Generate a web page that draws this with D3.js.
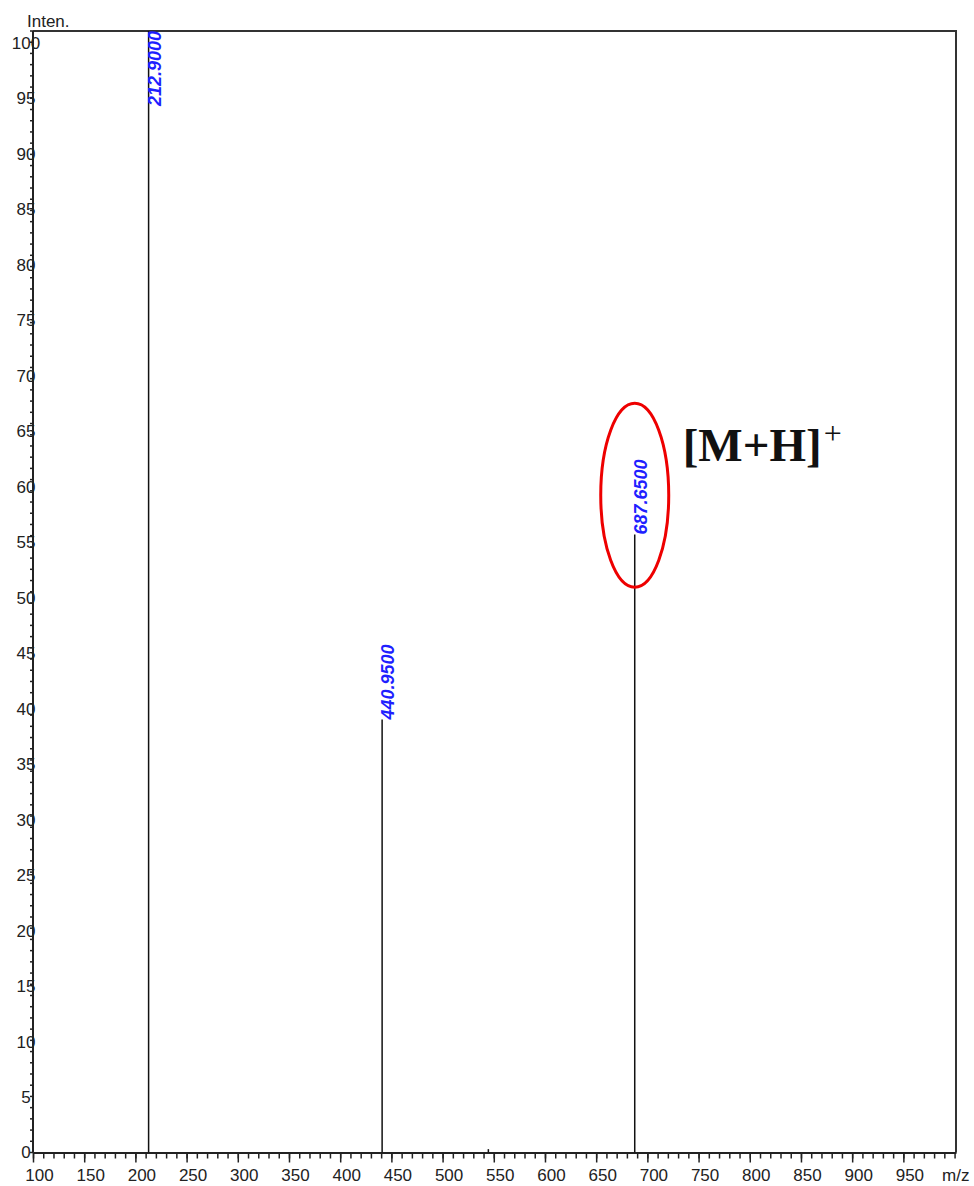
<!DOCTYPE html>
<html>
<head>
<meta charset="utf-8">
<script src="https://cdn.jsdelivr.net/npm/d3@7"></script>
<style>
  body { margin: 0; background: #fff; }
  svg text { font-family: "Liberation Sans", Arial, sans-serif; }
</style>
</head>
<body>
<div id="chart"></div>
<script>
// peak data
const peakMz = [212.9, 440.95, 687.65, 544.7];
const peakInten = [100, 38.6, 55.1, 0.3];
const peakLabels = ['212.9000', '440.9500', '687.6500', ''];

// tick values
const xMajorTicks = d3.range(100, 951, 50);
const xMinorTicks = d3.range(100, 1001, 10);
const yMajorTicks = d3.range(0, 101, 5);
const yMinorTicks = d3.range(0, 101, 1);

// annotation
const ionMz = 687.65;
const ionCenterInten = 58.6;
const ionText = '[M+H]';

const W = 974, H = 1186;
const plotLeft = 33, plotRight = 956, plotTop = 31, plotBottom = 1152.5;

const svg = d3.select('#chart').append('svg')
  .attr('width', W)
  .attr('height', H);

const x = d3.scaleLinear().domain([100, 1001.4]).range([plotLeft, plotRight]);
const y = d3.scaleLinear().domain([0, 100]).range([plotBottom, plotTop]);
// the printed y labels drift a little from the tick marks
const yLab = d3.scaleLinear().domain([0, 100]).range([plotBottom, 43]);

// frame (top + right)
svg.append('path')
  .attr('d', `M${plotLeft},${plotTop}H${plotRight}V${plotBottom}`)
  .attr('fill', 'none')
  .attr('stroke', '#333')
  .attr('stroke-width', 2);

// x axis - minor ticks
svg.append('g')
  .attr('transform', `translate(0,${plotBottom})`)
  .call(d3.axisBottom(x).tickValues(xMinorTicks).tickSize(6).tickFormat(''))
  .call(g => g.select('.domain').remove())
  .selectAll('line').attr('stroke', '#222').attr('stroke-width', 1.5);

// x axis - major ticks + labels
const xAxis = svg.append('g')
  .attr('transform', `translate(0,${plotBottom})`)
  .call(d3.axisBottom(x).tickValues(xMajorTicks).tickSize(10).tickPadding(6).tickSizeOuter(0));
xAxis.select('.domain').attr('stroke', '#222').attr('stroke-width', 2);
xAxis.selectAll('line').attr('stroke', '#222').attr('stroke-width', 1.5);
xAxis.selectAll('text')
  .attr('dx', 6)
  .style('font-size', '17px')
  .style('font-family', '"Liberation Sans", Arial, sans-serif')
  .style('fill', '#222');

// y axis line
svg.append('line')
  .attr('x1', plotLeft).attr('x2', plotLeft)
  .attr('y1', plotTop).attr('y2', plotBottom)
  .attr('stroke', '#222').attr('stroke-width', 2);

// y minor ticks
svg.append('g').selectAll('line')
  .data(yMinorTicks)
  .join('line')
  .attr('x1', plotLeft - 3).attr('x2', plotLeft)
  .attr('y1', d => y(d)).attr('y2', d => y(d))
  .attr('stroke', '#222').attr('stroke-width', 1.5);

// y labels
svg.append('g').selectAll('text')
  .data(yMajorTicks)
  .join('text')
  .attr('x', 26)
  .attr('y', d => yLab(d))
  .attr('dy', '0.35em')
  .attr('text-anchor', 'middle')
  .style('font-size', '17px')
  .style('fill', '#222')
  .text(d => d);

// axis titles
svg.append('text')
  .attr('x', 27).attr('y', 27)
  .style('font-size', '17px').style('fill', '#222')
  .text('Inten.');

svg.append('text')
  .attr('x', 942).attr('y', 1181)
  .style('font-size', '17px').style('fill', '#222')
  .text('m/z');

// peaks
const peaks = peakMz.map((m, i) => ({mz: m, inten: peakInten[i], label: peakLabels[i]}));

svg.append('g').selectAll('line')
  .data(peaks)
  .join('line')
  .attr('x1', d => x(d.mz)).attr('x2', d => x(d.mz))
  .attr('y1', y(0)).attr('y2', d => y(d.inten))
  .attr('stroke', '#111')
  .attr('stroke-width', 1.5);

// peak labels (rotated, clamped so they stay inside the frame)
svg.append('g').selectAll('text')
  .data(peaks.filter(d => d.label))
  .join('text')
  .text(d => d.label)
  .style('font-size', '18px')
  .style('font-weight', 'bold')
  .style('font-style', 'italic')
  .style('fill', '#1f1fff')
  .each(function(d) {
    const len = this.getComputedTextLength();
    const yStart = Math.max(y(d.inten), plotTop + len);
    d3.select(this).attr('transform', `translate(${x(d.mz) + 12},${yStart}) rotate(-90)`);
  });

// annotation: red ellipse + [M+H]+
svg.append('ellipse')
  .attr('cx', x(ionMz))
  .attr('cy', y(ionCenterInten))
  .attr('rx', 34)
  .attr('ry', 92)
  .attr('fill', 'none')
  .attr('stroke', '#ee0000')
  .attr('stroke-width', 3);

const ion = svg.append('text')
  .attr('x', x(ionMz) + 48)
  .attr('y', y(ionCenterInten) - 34)
  .style('font-family', '"Liberation Serif", "Times New Roman", serif')
  .style('font-weight', 'bold')
  .style('font-size', '47px')
  .style('fill', '#111')
  .text(ionText);
ion.append('tspan')
  .attr('dx', 2)
  .attr('dy', -17)
  .style('font-size', '32px')
  .style('font-weight', 'normal')
  .text('+');
</script>
</body>
</html>
